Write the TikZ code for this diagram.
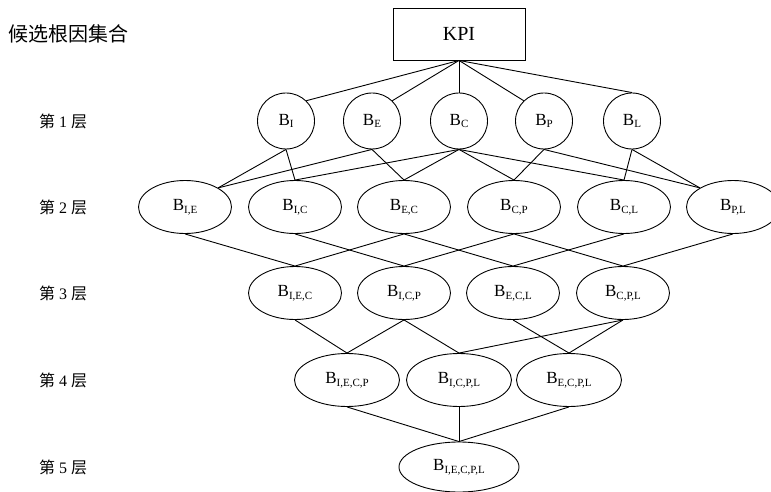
\documentclass[tikz,border=0pt]{standalone}
\usepackage{fontspec}
\setmainfont{Liberation Serif}
\newfontfamily\cjk{Noto Sans CJK SC}
\usepackage{tikz}
\usetikzlibrary{shapes.geometric}
\newcommand{\bset}[1]{B\raisebox{-.35ex}{\fontsize{11}{11}\selectfont #1}}
\tikzstyle{set} = [draw, ellipse, inner sep=0pt, line width=0.9pt, font=\fontsize{17}{17}\selectfont, minimum height=53pt]
\tikzstyle{lone} = [set, minimum width=57pt, minimum height=56pt]
\tikzstyle{ltwo} = [set, minimum width=93pt]
\tikzstyle{lfour} = [set, minimum width=105pt]
\tikzstyle{lfive} = [set, minimum width=120pt, minimum height=50pt]
\tikzstyle{layer} = [anchor=west, inner sep=0pt, font=\fontsize{16}{16}\selectfont]
\tikzstyle{link} = [line width=0.9pt]

\begin{document}
\begin{tikzpicture}[x=1pt,y=-1pt]
  \useasboundingbox (0,0) rectangle (771,492);
  \node[anchor=west, inner sep=0pt, font=\cjk\fontsize{20}{20}\selectfont](title) at (8,34){候选根因集合};
  \node[draw, line width=0.9pt, minimum width=132pt, minimum height=52pt, font=\fontsize{20}{20}\selectfont](KPI) at (459,34){KPI};
  % layer labels
  \node[layer](n1) at (39,121){{\cjk 第} 1 {\cjk 层}};
  \node[layer](n2) at (39,207){{\cjk 第} 2 {\cjk 层}};
  \node[layer](n3) at (39,293){{\cjk 第} 3 {\cjk 层}};
  \node[layer](n4) at (39,380){{\cjk 第} 4 {\cjk 层}};
  \node[layer](n5) at (39,467){{\cjk 第} 5 {\cjk 层}};
  % layer 1
  \node[lone](I) at (286,121){\bset{I}};
  \node[lone](E) at (372,121){\bset{E}};
  \node[lone](C) at (459,121){\bset{C}};
  \node[lone](P) at (544,121){\bset{P}};
  \node[lone](L) at (632,121){\bset{L}};
  % layer 2
  \node[ltwo](IE) at (185,207){\bset{I,E}};
  \node[ltwo](IC) at (295,207){\bset{I,C}};
  \node[ltwo](EC) at (404,207){\bset{E,C}};
  \node[ltwo](CP) at (514,207){\bset{C,P}};
  \node[ltwo](CL) at (624,207){\bset{C,L}};
  \node[ltwo](PL) at (733,207){\bset{P,L}};
  % layer 3
  \node[ltwo](IEC) at (295,293){\bset{I,E,C}};
  \node[ltwo](ICP) at (404,293){\bset{I,C,P}};
  \node[ltwo](ECL) at (513,293){\bset{E,C,L}};
  \node[ltwo](CPL) at (623,293){\bset{C,P,L}};
  % layer 4
  \node[lfour](IECP) at (347,380){\bset{I,E,C,P}};
  \node[lfour](ICPL) at (459,380){\bset{I,C,P,L}};
  \node[lfour](ECPL) at (569,380){\bset{E,C,P,L}};
  % layer 5
  \node[lfive](IECPL) at (459,467){\bset{I,E,C,P,L}};
  % links
  \draw[link](KPI.south)--(I.45);
  \draw[link](KPI.south)--(E.45);
  \draw[link](KPI.south)--(C.north);
  \draw[link](KPI.south)--(P.135);
  \draw[link](KPI.south)--(L.north);
  \draw[link](I.south)--(IE.30);
  \draw[link](E.south)--(IE.30);
  \draw[link](I.south)--(IC.north);
  \draw[link](C.south)--(IC.north);
  \draw[link](E.south)--(EC.north);
  \draw[link](C.south)--(EC.north);
  \draw[link](C.south)--(CP.north);
  \draw[link](P.south)--(CP.north);
  \draw[link](C.south)--(CL.north);
  \draw[link](L.south)--(CL.north);
  \draw[link](P.south)--(PL.150);
  \draw[link](L.south)--(PL.150);
  \draw[link](IE.south)--(IEC.north);
  \draw[link](EC.south)--(IEC.north);
  \draw[link](IC.south)--(ICP.north);
  \draw[link](CP.south)--(ICP.north);
  \draw[link](EC.south)--(ECL.north);
  \draw[link](CL.south)--(ECL.north);
  \draw[link](CP.south)--(CPL.north);
  \draw[link](PL.south)--(CPL.north);
  \draw[link](IEC.south)--(IECP.north);
  \draw[link](ICP.south)--(IECP.north);
  \draw[link](ICP.south)--(ICPL.north);
  \draw[link](CPL.south)--(ICPL.north);
  \draw[link](ECL.south)--(ECPL.north);
  \draw[link](CPL.south)--(ECPL.north);
  \draw[link](IECP.south)--(IECPL.north);
  \draw[link](ICPL.south)--(IECPL.north);
  \draw[link](ECPL.south)--(IECPL.north);
\end{tikzpicture}
\end{document}
